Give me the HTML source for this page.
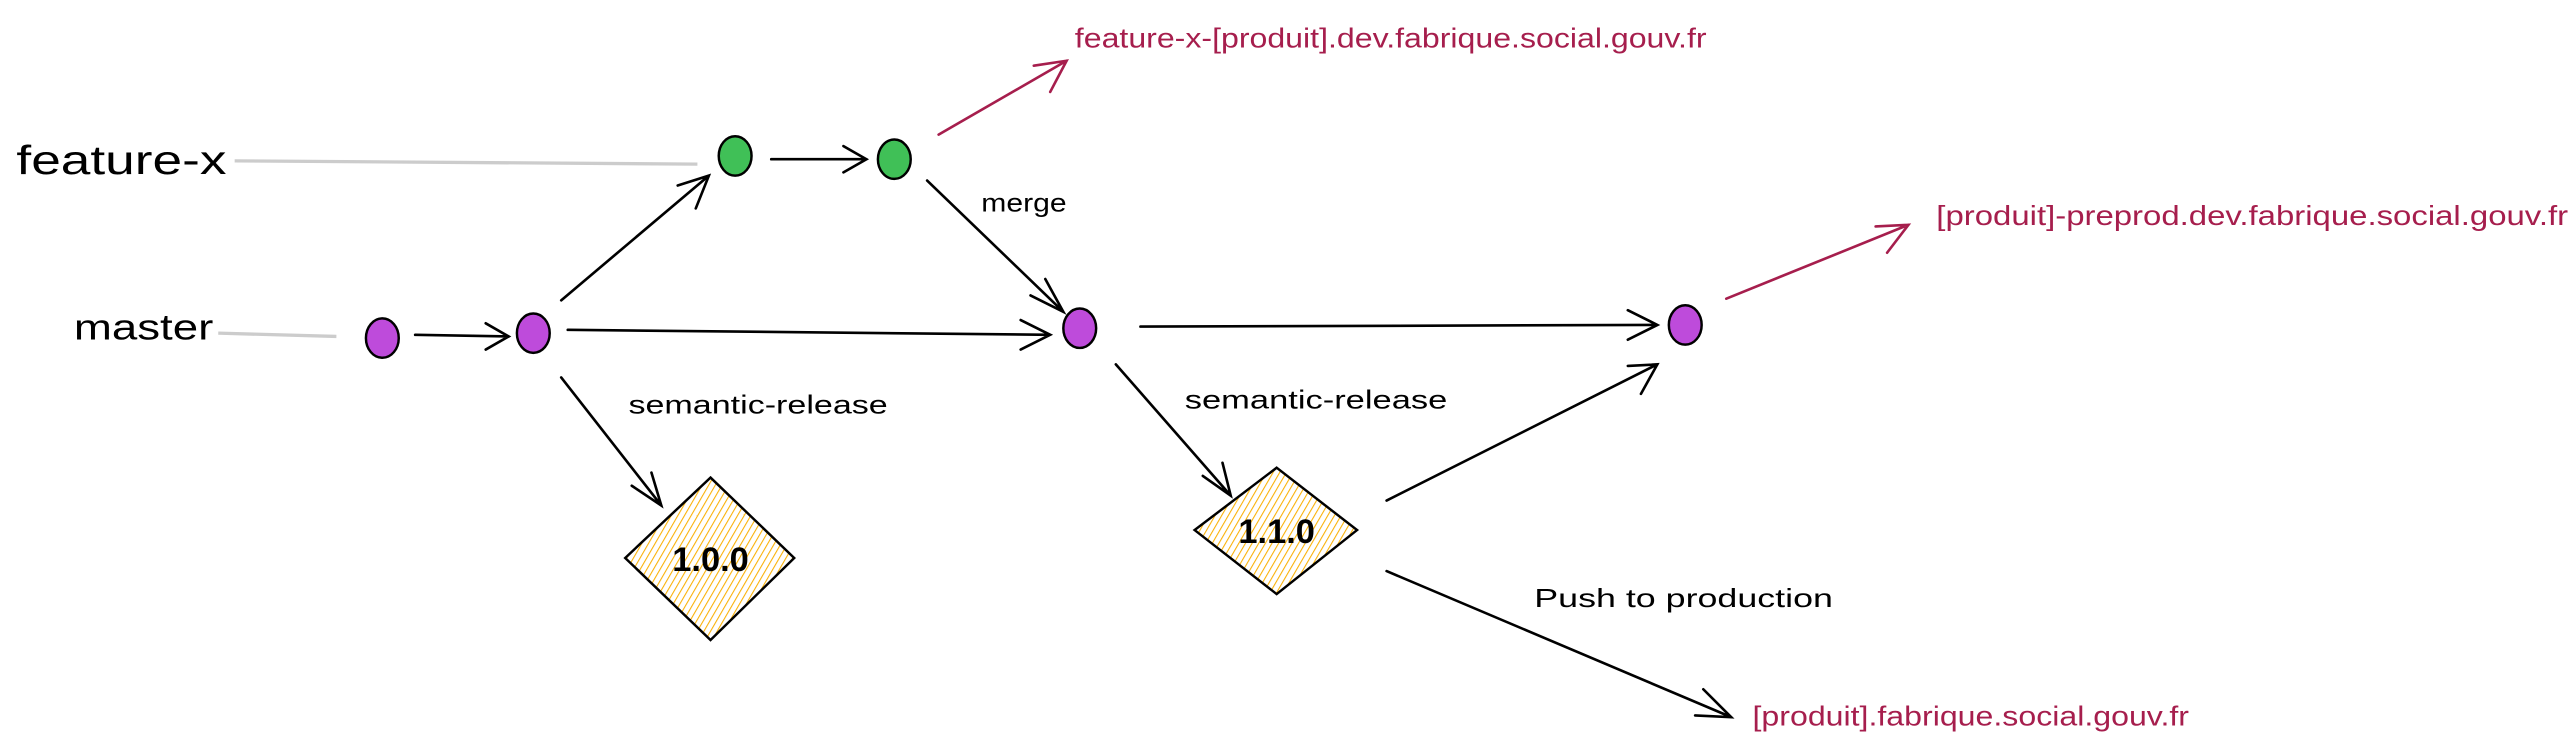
<!DOCTYPE html>
<html><head><meta charset="utf-8"><style>
html,body{margin:0;padding:0;background:#fff;}
svg{display:block;}
.hw{font-family:"Liberation Sans",sans-serif;fill:#000;}
.rd{font-family:"Liberation Sans",sans-serif;fill:#a61e4d;font-size:17px;}
</style></head><body>
<svg width="2573" height="750" viewBox="0 0 1568 457" xmlns="http://www.w3.org/2000/svg">
<defs>
<pattern id="hatch" patternUnits="userSpaceOnUse" width="3.5" height="4" patternTransform="rotate(30)">
<line x1="0" y1="0" x2="0" y2="4" stroke="#fab005" stroke-width="1.3"/>
</pattern>
</defs>
<g fill="none" stroke="#ccc" stroke-width="2">
<line x1="143" y1="98" x2="425" y2="100"/>
<line x1="133" y1="203" x2="205" y2="205"/>
</g>
<g class="hw">
<text x="10" y="106" font-size="25" textLength="128" lengthAdjust="spacingAndGlyphs">feature-x</text>
<text x="45" y="207" font-size="22" textLength="85" lengthAdjust="spacingAndGlyphs">master</text>
<text x="598" y="129" font-size="16" textLength="52" lengthAdjust="spacingAndGlyphs">merge</text>
<text x="383" y="252" font-size="16" textLength="158" lengthAdjust="spacingAndGlyphs">semantic-release</text>
<text x="722" y="249" font-size="16" textLength="160" lengthAdjust="spacingAndGlyphs">semantic-release</text>
<text x="935" y="370" font-size="16" textLength="182" lengthAdjust="spacingAndGlyphs">Push to production</text>
</g>
<text class="rd" x="655" y="29" textLength="385" lengthAdjust="spacingAndGlyphs">feature-x-[produit].dev.fabrique.social.gouv.fr</text>
<text class="rd" x="1180" y="137" textLength="385" lengthAdjust="spacingAndGlyphs">[produit]-preprod.dev.fabrique.social.gouv.fr</text>
<text class="rd" x="1068" y="442" textLength="266" lengthAdjust="spacingAndGlyphs">[produit].fabrique.social.gouv.fr</text>
<g stroke="#000" stroke-width="1.5">
<polygon points="433,291 484,340 433,390 381,340" fill="url(#hatch)"/>
<polygon points="778,285 827,323 778,362 728,323" fill="url(#hatch)"/>
</g>
<text class="hw" x="433" y="348" font-size="21" text-anchor="middle" font-weight="bold">1.0.0</text>
<text class="hw" x="778" y="331" font-size="21" text-anchor="middle" font-weight="bold">1.1.0</text>
<g fill="none" stroke="#000" stroke-width="1.6" stroke-linecap="round">
<path d="M253,204 L310,205 M296,197 L310,205 L296,213"/>
<path d="M342,183 L432,107 M413,113 L432,107 L424,127"/>
<path d="M470,97 L528,97 M514,89 L528,97 L514,105"/>
<path d="M565,110 L648,190 M637,170 L648,190 L628,180"/>
<path d="M346,201 L640,204 M622,195 L640,204 L622,213"/>
<path d="M695,199 L1010,198 M992,189 L1010,198 L992,207"/>
<path d="M342,230 L403,308 M397,288 L403,308 L385,296"/>
<path d="M680,222 L750,302 M745,282 L750,302 L733,290"/>
<path d="M845,305 L1010,222 M992,223 L1010,222 L1000,240"/>
<path d="M845,348 L1055,437 M1038,420 L1055,437 L1033,436"/>
</g>
<g fill="none" stroke="#a61e4d" stroke-width="1.6" stroke-linecap="round">
<path d="M572,82 L650,37 M630,40 L650,37 L640,56"/>
<path d="M1052,182 L1163,137 M1143,138 L1163,137 L1150,154"/>
</g>
<g stroke="#000" stroke-width="1.5">
<ellipse cx="233" cy="206" rx="10" ry="12" fill="#be4bdb"/>
<ellipse cx="325" cy="203" rx="10" ry="12" fill="#be4bdb"/>
<ellipse cx="448" cy="95" rx="10" ry="12" fill="#40c057"/>
<ellipse cx="545" cy="97" rx="10" ry="12" fill="#40c057"/>
<ellipse cx="658" cy="200" rx="10" ry="12" fill="#be4bdb"/>
<ellipse cx="1027" cy="198" rx="10" ry="12" fill="#be4bdb"/>
</g>
</svg>
</body></html>
